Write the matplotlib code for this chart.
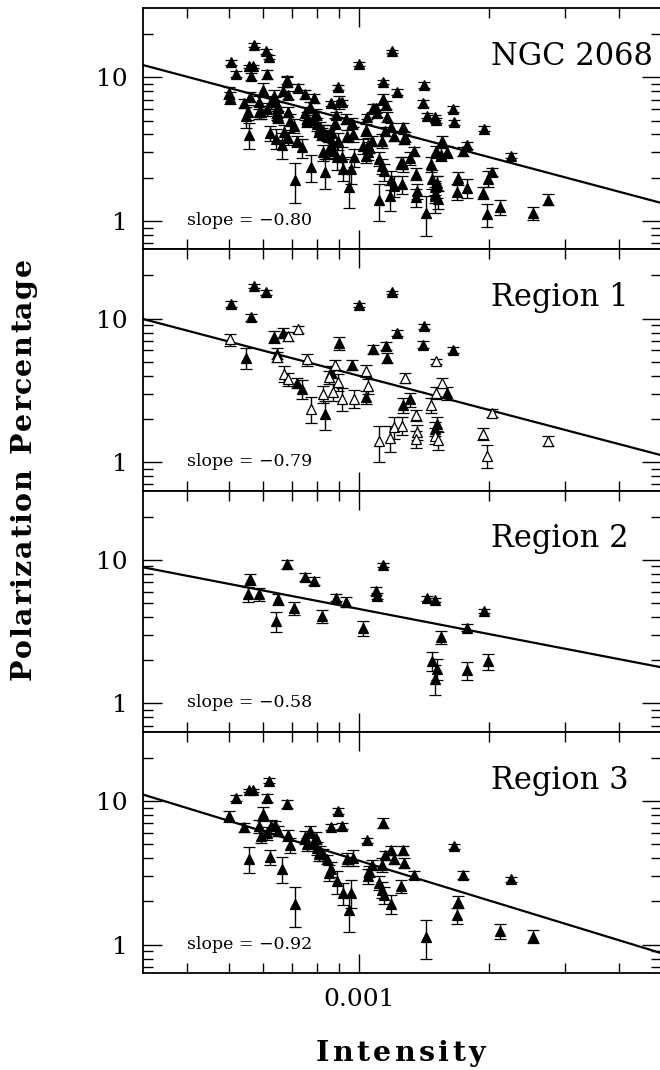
import numpy as np
import matplotlib
matplotlib.use("Agg")
import matplotlib.pyplot as plt
from matplotlib.ticker import FixedLocator, FixedFormatter, NullFormatter
from matplotlib.font_manager import FontProperties
from matplotlib.textpath import TextToPath

plt.rcParams['font.family'] = ['DejaVu Serif']

# ---------------- data ----------------
# Region 1 (filled triangles)
r1f_I = [5.07e-4, 5.73e-4, 6.09e-4, 5.64e-4, 1.00e-3, 1.195e-3, 1.228e-3, 1.418e-3, 1.41e-3, 1.652e-3,
         1.08e-3, 1.153e-3, 1.164e-3, 9.02e-4, 9.62e-4, 6.37e-4, 6.69e-4, 5.47e-4, 6.47e-4, 7.19e-4,
         7.40e-4, 8.35e-4, 8.61e-4, 1.038e-3, 1.313e-3, 1.268e-3, 1.603e-3, 1.50e-3, 1.52e-3]
r1f_P = [12.7, 16.8, 15.2, 10.2, 12.4, 15.2, 7.94, 8.84, 6.59, 6.05,
         6.11, 6.45, 5.32, 6.76, 4.78, 7.45, 7.98, 5.35, 5.70, 3.58,
         3.25, 2.18, 4.25, 2.84, 2.74, 2.49, 3.03, 1.71, 1.85]
r1f_E = [0.6, 0.5, 0.6, 0.6, 0.4, 0.4, 0.4, 0.4, 0.4, 0.3,
         0.4, 0.4, 0.4, 0.7, 0.4, 0.7, 0.6, 0.9, 0.5, 0.3,
         0.5, 0.5, 0.4, 0.3, 0.3, 0.3, 0.3, 0.2, 0.2]
# Region 1 (open triangles)
r1o_I = [5.04e-4, 7.23e-4, 6.85e-4, 6.47e-4, 7.59e-4, 6.70e-4, 6.87e-4, 7.74e-4, 8.26e-4, 8.53e-4,
         8.82e-4, 8.95e-4, 8.72e-4, 9.12e-4, 9.74e-4, 1.038e-3, 1.051e-3, 1.277e-3, 1.507e-3, 1.561e-3,
         1.507e-3, 1.47e-3, 1.115e-3, 1.184e-3, 1.205e-3, 1.256e-3, 1.36e-3, 1.365e-3, 1.355e-3, 1.50e-3,
         1.527e-3, 1.94e-3, 1.98e-3, 2.03e-3, 2.75e-3]
r1o_P = [7.17, 8.43, 7.53, 5.41, 5.20, 4.14, 3.78, 2.36, 3.00, 3.92,
         4.78, 3.61, 3.08, 2.77, 2.77, 4.32, 3.39, 3.86, 5.04, 3.58,
         3.05, 2.49, 1.40, 1.48, 1.76, 1.80, 2.12, 1.62, 1.46, 1.53,
         1.42, 1.57, 1.11, 2.20, 1.41]
r1o_E = [0.7, 0.5, 0.5, 0.4, 0.5, 0.5, 0.4, 0.5, 0.4, 0.4,
         0.4, 0.5, 0.4, 0.5, 0.4, 0.4, 0.4, 0.3, 0.2, 0.3,
         0.3, 0.3, 0.4, 0.3, 0.3, 0.25, 0.2, 0.2, 0.2, 0.2,
         0.2, 0.15, 0.2, 0.15, 0.12]

# Region 2
r2_I = [5.60e-4, 5.54e-4, 5.87e-4, 6.42e-4, 6.51e-4, 6.80e-4, 7.06e-4, 7.50e-4, 7.86e-4, 8.22e-4,
        8.87e-4, 9.36e-4, 1.025e-3, 1.094e-3, 1.10e-3, 1.14e-3, 1.44e-3, 1.50e-3, 1.55e-3, 1.48e-3,
        1.52e-3, 1.50e-3, 1.78e-3, 1.78e-3, 1.945e-3, 1.99e-3]
r2_P = [7.33, 5.76, 5.76, 3.75, 5.32, 9.33, 4.60, 7.61, 7.14, 4.06,
        5.46, 5.12, 3.34, 6.08, 5.61, 9.23, 5.40, 5.26, 2.90, 1.97,
        1.75, 1.49, 3.37, 1.70, 4.40, 1.97]
r2_E = [0.6, 0.7, 0.6, 0.6, 0.5, 0.7, 0.5, 0.5, 0.5, 0.4,
        0.3, 0.4, 0.4, 0.4, 0.3, 0.3, 0.2, 0.2, 0.3, 0.3,
        0.3, 0.35, 0.2, 0.25, 0.15, 0.25]

# Region 3
r3_I = [4.99e-4, 5.20e-4, 5.41e-4, 5.56e-4, 5.69e-4, 6.18e-4, 6.12e-4, 6.00e-4, 6.82e-4, 5.56e-4,
        6.24e-4, 6.62e-4, 7.13e-4, 5.88e-4, 5.94e-4, 6.26e-4, 6.41e-4, 6.50e-4, 6.14e-4, 6.85e-4,
        6.94e-4, 7.50e-4, 7.69e-4, 7.57e-4, 7.84e-4, 7.94e-4, 7.98e-4, 8.15e-4, 8.08e-4, 8.26e-4,
        8.45e-4, 8.61e-4, 8.53e-4, 8.88e-4, 9.20e-4, 9.57e-4, 9.48e-4, 8.95e-4, 8.61e-4, 9.16e-4,
        9.39e-4, 9.67e-4, 1.042e-3, 1.135e-3, 1.07e-3, 1.051e-3, 1.057e-3, 1.13e-3, 1.15e-3, 1.19e-3,
        1.208e-3, 1.267e-3, 1.274e-3, 1.344e-3, 1.111e-3, 1.13e-3, 1.144e-3, 1.19e-3, 1.25e-3, 1.43e-3,
        1.66e-3, 1.74e-3, 1.70e-3, 1.69e-3, 2.25e-3, 2.12e-3, 2.53e-3]
r3_P = [7.82, 10.5, 6.59, 11.9, 11.9, 13.9, 10.5, 8.16, 9.58, 3.98,
        4.09, 3.38, 1.93, 6.70, 5.70, 6.70, 6.80, 6.18, 6.00, 5.76,
        4.93, 5.61, 6.18, 4.99, 5.12, 5.55, 4.73, 4.48, 4.25, 4.25,
        3.92, 3.38, 3.16, 2.77, 2.30, 2.30, 1.73, 8.51, 6.59, 6.70,
        3.92, 4.03, 5.32, 7.06, 3.61, 3.00, 3.25, 3.61, 4.20, 4.53,
        3.92, 4.53, 3.72, 3.05, 2.70, 2.42, 2.21, 1.93, 2.55, 1.14,
        4.85, 3.05, 1.99, 1.60, 2.85, 1.25, 1.14]
r3_E = [0.7, 0.5, 0.5, 0.3, 0.3, 0.5, 0.7, 0.9, 0.6, 0.8,
        0.5, 0.7, 0.6, 0.7, 0.6, 0.7, 0.5, 0.5, 0.6, 0.5,
        0.6, 0.6, 0.5, 0.5, 0.5, 0.5, 0.5, 0.4, 0.4, 0.4,
        0.3, 0.4, 0.4, 0.5, 0.4, 0.5, 0.5, 0.4, 0.3, 0.3,
        0.4, 0.5, 0.2, 0.6, 0.3, 0.35, 0.3, 0.4, 0.3, 0.3,
        0.3, 0.3, 0.3, 0.2, 0.3, 0.3, 0.3, 0.3, 0.25, 0.35,
        0.2, 0.2, 0.2, 0.2, 0.12, 0.15, 0.12]

panel_names = ["NGC 2068", "Region 1", "Region 2", "Region 3"]
fit_slopes = [-0.80, -0.79, -0.58, -0.92]
fit_P_at_1e3 = [4.85, 4.0, 4.55, 3.85]   # fitted P at I = 0.001
slope_labels = ["slope = \u22120.80", "slope = \u22120.79", "slope = \u22120.58", "slope = \u22120.92"]

x_lim = (10 ** -3.5, 10 ** -2.3)
y_lim = (0.635, 30.4)

# ---------------- figure ----------------
W_PX, H_PX = 660, 1070
fig = plt.figure(figsize=(6.6, 10.7), dpi=100)
L, R, B, T = 143 / W_PX, 661 / W_PX, 1 - 973 / H_PX, 1 - 8 / H_PX
H = (T - B) / 4

ngc_I = r1f_I + r1o_I + r2_I + r3_I
ngc_P = r1f_P + r1o_P + r2_P + r3_P
ngc_E = r1f_E + r1o_E + r2_E + r3_E

series = [
    [(ngc_I, ngc_P, ngc_E, True)],
    [(r1f_I, r1f_P, r1f_E, True), (r1o_I, r1o_P, r1o_E, False)],
    [(r2_I, r2_P, r2_E, True)],
    [(r3_I, r3_P, r3_E, True)],
]

for k in range(4):
    ax = fig.add_axes([L, T - (k + 1) * H, R - L, H])
    ax.set_xscale('log')
    ax.set_yscale('log')
    ax.set_xlim(*x_lim)
    ax.set_ylim(*y_lim)
    for (xi, yi, ei, filled) in series[k]:
        ax.errorbar(xi, yi, yerr=ei, fmt='^', ms=7, mew=0.9,
                    mfc='black' if filled else 'white', mec='black',
                    ecolor='black', elinewidth=1.0, capsize=4.2, capthick=1.0,
                    zorder=3)
    xs = np.array(x_lim)
    ax.plot(xs, fit_P_at_1e3[k] * (xs / 1e-3) ** fit_slopes[k], color='black', lw=1.6, zorder=2)

    ax.text(0.672, 0.80, panel_names[k], transform=ax.transAxes, ha='left', va='center',
            fontsize=22)
    ax.text(0.085, 0.12, slope_labels[k], transform=ax.transAxes, ha='left', va='center',
            fontsize=12.5)

    ax.yaxis.set_major_locator(FixedLocator([1, 10]))
    ax.yaxis.set_major_formatter(FixedFormatter(['1', '10']))
    ax.yaxis.set_minor_locator(FixedLocator([0.7, 0.8, 0.9, 2, 3, 4, 5, 6, 7, 8, 9, 20]))
    ax.yaxis.set_minor_formatter(NullFormatter())
    ax.xaxis.set_major_locator(FixedLocator([1e-3]))
    if k == 3:
        ax.xaxis.set_major_formatter(FixedFormatter(['0.001']))
    else:
        ax.xaxis.set_major_formatter(NullFormatter())
    ax.xaxis.set_minor_locator(FixedLocator([4e-4, 5e-4, 6e-4, 7e-4, 8e-4, 9e-4, 2e-3, 3e-3, 4e-3]))
    ax.xaxis.set_minor_formatter(NullFormatter())

    ax.tick_params(which='both', direction='in', top=True, right=True, width=1.0, color='black')
    ax.tick_params(which='major', length=14, labelsize=18, pad=11)
    ax.tick_params(which='minor', length=7)
    for s in ax.spines.values():
        s.set_linewidth(1.3)


# letter-spaced bold axis titles, spread over the span they occupy in the reference
def tracked_text(text, start_px, end_px, base_px, size, vertical):
    prop = FontProperties(family='DejaVu Serif', weight='bold', size=size)
    ttp = TextToPath()
    widths = []
    for ch in text:
        w, _, _ = ttp.get_text_width_height_descent(ch if ch != ' ' else 'n', prop, ismath=False)
        if ch == ' ':
            w *= 0.6
        widths.append(w * 100 / 72)
    natural = sum(widths)
    track = (abs(end_px - start_px) - natural) / (len(text) - 1)
    pos = start_px
    for ch, w in zip(text, widths):
        if ch != ' ':
            if vertical:
                fig.text(base_px / W_PX, 1 - pos / H_PX, ch, fontproperties=prop,
                         rotation=90, rotation_mode='anchor', ha='left', va='baseline')
            else:
                fig.text(pos / W_PX, 1 - base_px / H_PX, ch, fontproperties=prop,
                         ha='left', va='baseline')
        pos = pos - (w + track) if vertical else pos + (w + track)


tracked_text("Polarization Percentage", 680, 258, 31, 20.5, vertical=True)
tracked_text("Intensity", 316, 485, 1061, 20.5, vertical=False)

fig.savefig("out.png", dpi=100)
